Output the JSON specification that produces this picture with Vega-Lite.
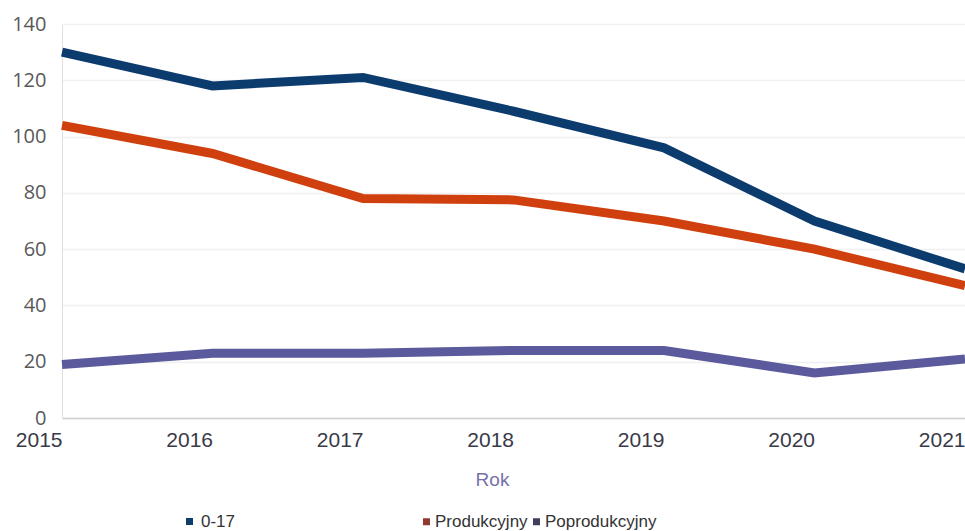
{
  "$schema": "https://vega.github.io/schema/vega-lite/v6.json",
  "width": 903,
  "height": 394,
  "autosize": {"type": "none"},
  "padding": {"left": 62, "top": 24, "right": 0, "bottom": 113},
  "background": "white",
  "config": {
    "view": {"stroke": null},
    "font": "Liberation Sans",
    "legend": {
      "title": null,
      "orient": "none",
      "direction": "horizontal",
      "columnPadding": 0,
      "symbolType": "square",
      "symbolSize": 49,
      "symbolStrokeWidth": 0,
      "labelOffset": 0,
      "labelFontSize": 17,
      "labelLimit": 400,
      "labelColor": "#333333"
    }
  },
  "data": {
    "values": [
      {"rok": "2015", "grupa": "0-17", "wartosc": 130},
      {"rok": "2016", "grupa": "0-17", "wartosc": 118},
      {"rok": "2017", "grupa": "0-17", "wartosc": 121},
      {"rok": "2018", "grupa": "0-17", "wartosc": 109},
      {"rok": "2019", "grupa": "0-17", "wartosc": 96},
      {"rok": "2020", "grupa": "0-17", "wartosc": 70},
      {"rok": "2021", "grupa": "0-17", "wartosc": 53},
      {"rok": "2015", "grupa": "Produkcyjny", "wartosc": 104},
      {"rok": "2016", "grupa": "Produkcyjny", "wartosc": 94},
      {"rok": "2017", "grupa": "Produkcyjny", "wartosc": 78},
      {"rok": "2018", "grupa": "Produkcyjny", "wartosc": 77.5},
      {"rok": "2019", "grupa": "Produkcyjny", "wartosc": 70},
      {"rok": "2020", "grupa": "Produkcyjny", "wartosc": 60},
      {"rok": "2021", "grupa": "Produkcyjny", "wartosc": 47},
      {"rok": "2015", "grupa": "Poprodukcyjny", "wartosc": 19},
      {"rok": "2016", "grupa": "Poprodukcyjny", "wartosc": 23},
      {"rok": "2017", "grupa": "Poprodukcyjny", "wartosc": 23},
      {"rok": "2018", "grupa": "Poprodukcyjny", "wartosc": 24},
      {"rok": "2019", "grupa": "Poprodukcyjny", "wartosc": 24},
      {"rok": "2020", "grupa": "Poprodukcyjny", "wartosc": 16},
      {"rok": "2021", "grupa": "Poprodukcyjny", "wartosc": 21}
    ]
  },
  "encoding": {
    "x": {
      "field": "rok",
      "type": "ordinal",
      "scale": {"type": "point", "padding": 0},
      "axis": {
        "title": "Rok",
        "titleFont": "Liberation Sans",
        "titleFontSize": 19,
        "titleFontWeight": "normal",
        "titleColor": "#7672a8",
        "titlePadding": 20,
        "titleX": 430,
        "labelAngle": 0,
        "labelAlign": "right",
        "labelFontSize": 21,
        "labelColor": "#3a3a48",
        "labelPadding": 11,
        "ticks": false,
        "domainColor": "#d0d0d0",
        "domainWidth": 1.5,
        "grid": false
      }
    },
    "y": {
      "field": "wartosc",
      "type": "quantitative",
      "scale": {"domain": [0, 140], "nice": false},
      "axis": {
        "title": null,
        "values": [0, 20, 40, 60, 80, 100, 120, 140],
        "labelFont": "Open Sans",
        "labelFontSize": 20,
        "labelColor": "#595959",
        "labelPadding": 16,
        "ticks": false,
        "domain": true,
        "domainColor": "#e0e0e0",
        "gridColor": "#f0f0f0",
        "gridWidth": 1.5
      }
    }
  },
  "layer": [
    {
      "transform": [{"filter": "datum.grupa == '0-17'"}],
      "mark": {"type": "line", "strokeWidth": 9, "strokeJoin": "miter"},
      "encoding": {
        "color": {
          "field": "grupa",
          "type": "nominal",
          "scale": {"domain": ["0-17"], "range": ["#0c3b6e"]},
          "legend": {
            "legendX": 119,
            "legendY": 489,
            "labelOffset": 3,
            "encode": {
              "symbols": {
                "update": {
                  "fill": {"value": "#0f3e6a"},
                  "stroke": {"value": "transparent"},
                  "opacity": {"value": 1}
                }
              }
            }
          }
        }
      }
    },
    {
      "transform": [{"filter": "datum.grupa != '0-17'"}],
      "mark": {"type": "line", "strokeWidth": 9, "strokeJoin": "miter"},
      "encoding": {
        "color": {
          "field": "grupa",
          "type": "nominal",
          "sort": ["Produkcyjny", "Poprodukcyjny"],
          "scale": {"domain": ["Produkcyjny", "Poprodukcyjny"], "range": ["#d0400f", "#5b5a9c"]},
          "legend": {
            "legendX": 356,
            "legendY": 489,
            "encode": {
              "symbols": {
                "update": {
                  "fill": {"signal": "datum.value == 'Produkcyjny' ? '#8e3a2c' : '#3f3e5e'"},
                  "stroke": {"value": "transparent"},
                  "opacity": {"value": 1}
                }
              }
            }
          }
        }
      }
    }
  ],
  "resolve": {"scale": {"color": "independent"}, "legend": {"color": "independent"}}
}
